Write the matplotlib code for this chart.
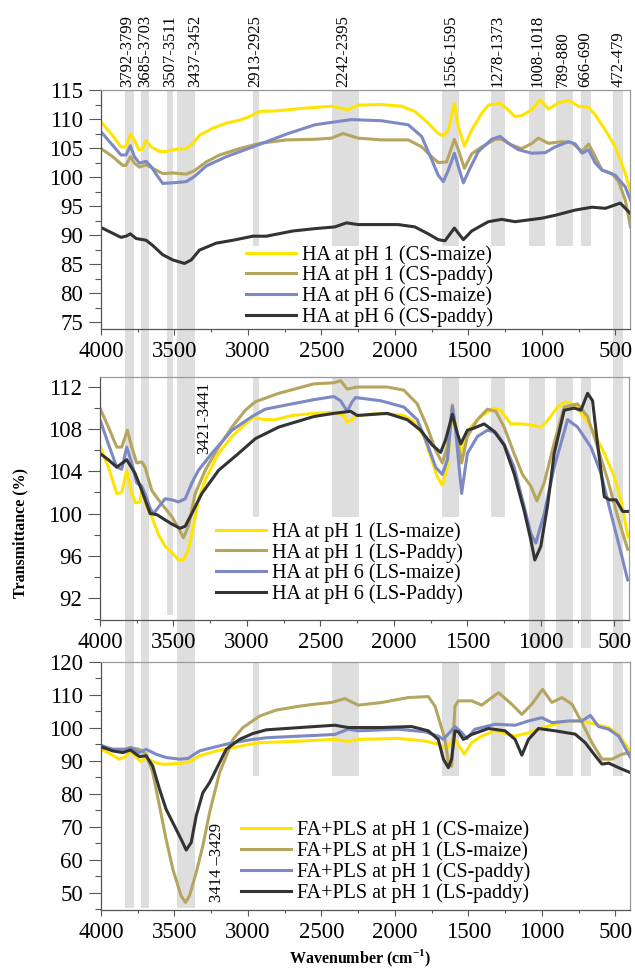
import matplotlib
matplotlib.use('Agg')
import matplotlib.pyplot as plt
from matplotlib.patches import Rectangle
from matplotlib.transforms import blended_transform_factory
from matplotlib.ticker import MultipleLocator

plt.rcParams['font.family'] = ['Liberation Serif', 'DejaVu Serif']
plt.rcParams['mathtext.fontset'] = 'custom'
plt.rcParams['mathtext.rm'] = 'Liberation Serif'
plt.rcParams['mathtext.bf'] = 'Liberation Serif:bold'

# ---- data (wavenumber cm-1, transmittance %) ----
# panel 1: HA, CS
p1_yellow_wn = [4000, 3932, 3864, 3830, 3800, 3773, 3743, 3720, 3693, 3659, 3602, 3557, 3489, 3420, 3375, 3330, 3239, 3148, 3057, 2989, 2920, 2807, 2648, 2545, 2432, 2318, 2250, 2091, 1955, 1864, 1773, 1705, 1670, 1636, 1595, 1568, 1527, 1477, 1409, 1364, 1284, 1239, 1182, 1136, 1068, 1011, 955, 886, 818, 750, 682, 636, 568, 500, 432, 397]
p1_yellow_t = [109.5, 107.5, 105.2, 105.2, 107.4, 106.4, 104.7, 104.7, 106.3, 105.2, 104.4, 104.4, 104.8, 104.9, 105.8, 107.2, 108.4, 109.3, 109.8, 110.4, 111.3, 111.4, 111.8, 112.0, 112.2, 111.6, 112.4, 112.5, 112.2, 111.3, 109.3, 107.5, 107.1, 108.1, 112.7, 108.7, 105.3, 108.1, 111.0, 112.4, 112.7, 111.8, 110.4, 110.6, 111.6, 113.3, 111.7, 112.8, 113.2, 112.2, 112.0, 110.7, 108.1, 105.2, 100.6, 97.5]

p1_khaki_wn = [4000, 3920, 3852, 3830, 3800, 3773, 3739, 3693, 3648, 3580, 3511, 3420, 3364, 3284, 3193, 3057, 2920, 2738, 2545, 2432, 2352, 2250, 2091, 1909, 1818, 1750, 1705, 1648, 1595, 1568, 1527, 1477, 1409, 1318, 1273, 1205, 1136, 1068, 1023, 955, 864, 795, 727, 682, 636, 591, 523, 477, 432, 397]
p1_khaki_t = [104.9, 103.5, 102.0, 102.0, 103.5, 102.4, 101.7, 102.1, 101.5, 100.6, 100.7, 100.5, 101.1, 102.6, 103.8, 104.9, 105.8, 106.4, 106.5, 106.7, 107.5, 106.7, 106.4, 106.4, 105.2, 103.5, 102.5, 102.6, 106.5, 104.7, 101.5, 104.0, 105.2, 106.5, 106.5, 105.5, 104.9, 105.8, 106.7, 105.8, 106.1, 105.9, 104.4, 105.7, 103.5, 101.2, 100.6, 99.2, 96.0, 91.4]

p1_blue_wn = [4000, 3932, 3864, 3830, 3800, 3773, 3739, 3693, 3659, 3614, 3580, 3511, 3420, 3364, 3284, 3148, 2966, 2738, 2545, 2409, 2295, 2091, 1909, 1818, 1750, 1705, 1670, 1636, 1595, 1568, 1534, 1489, 1432, 1341, 1284, 1227, 1159, 1068, 977, 909, 818, 773, 727, 682, 636, 591, 500, 432, 397]
p1_blue_t = [107.8, 105.8, 103.8, 103.8, 105.4, 103.5, 102.4, 102.7, 101.8, 100.1, 98.9, 99.0, 99.2, 100.1, 101.9, 103.5, 105.2, 107.4, 109.0, 109.5, 109.9, 109.7, 109.0, 107.0, 103.0, 100.3, 99.2, 101.2, 104.1, 101.8, 99.0, 101.5, 104.4, 106.5, 107.0, 105.8, 104.7, 104.1, 104.2, 105.2, 106.1, 105.7, 104.1, 104.7, 102.4, 101.2, 100.3, 98.3, 96.0]

p1_black_wn = [4000, 3920, 3864, 3830, 3800, 3761, 3693, 3648, 3580, 3511, 3432, 3386, 3330, 3216, 3102, 2966, 2875, 2693, 2545, 2409, 2329, 2250, 1977, 1864, 1773, 1705, 1659, 1595, 1534, 1477, 1364, 1273, 1182, 1000, 909, 773, 659, 568, 466, 397]
p1_black_t = [91.3, 90.3, 89.6, 89.8, 90.2, 89.4, 89.1, 88.2, 86.6, 85.7, 85.1, 85.7, 87.4, 88.6, 89.1, 89.8, 89.8, 90.7, 91.1, 91.4, 92.1, 91.8, 91.8, 91.4, 90.2, 89.2, 89.0, 91.2, 89.2, 90.7, 92.3, 92.7, 92.3, 92.9, 93.4, 94.3, 94.8, 94.6, 95.5, 93.7]

# panel 2: HA, LS
p2_yellow_wn = [4000, 3943, 3886, 3852, 3818, 3784, 3757, 3727, 3716, 3682, 3648, 3602, 3557, 3511, 3466, 3432, 3398, 3364, 3330, 3284, 3193, 3102, 3011, 2955, 2875, 2807, 2693, 2545, 2409, 2341, 2318, 2284, 2250, 2091, 1932, 1864, 1795, 1750, 1705, 1670, 1636, 1614, 1602, 1580, 1545, 1523, 1477, 1409, 1318, 1273, 1205, 1136, 1068, 1000, 955, 886, 830, 773, 705, 636, 568, 500, 455, 407]
p2_yellow_t = [106.4, 104.4, 101.9, 102.0, 104.1, 101.9, 101.0, 101.1, 102.2, 100.6, 99.7, 98.0, 96.9, 96.3, 95.6, 95.6, 96.6, 98.8, 101.3, 103.2, 105.7, 107.3, 108.5, 109.1, 108.9, 108.9, 109.3, 109.5, 109.6, 109.3, 108.7, 108.9, 109.3, 109.5, 109.3, 108.7, 107.3, 105.4, 103.5, 102.7, 104.4, 107.9, 109.8, 108.2, 105.7, 106.6, 108.2, 109.2, 110.0, 109.8, 108.5, 108.5, 108.4, 108.2, 108.8, 110.1, 110.6, 110.3, 109.2, 107.6, 105.7, 103.5, 101.3, 97.8]

p2_khaki_wn = [4000, 3943, 3886, 3852, 3814, 3784, 3750, 3716, 3693, 3648, 3602, 3557, 3511, 3466, 3432, 3398, 3352, 3284, 3193, 3102, 3011, 2943, 2784, 2545, 2409, 2363, 2318, 2250, 2045, 1932, 1841, 1773, 1716, 1670, 1636, 1602, 1568, 1539, 1500, 1432, 1364, 1307, 1250, 1182, 1125, 1068, 1027, 977, 909, 841, 750, 682, 614, 545, 477, 409]
p2_khaki_t = [110.0, 108.2, 106.3, 106.3, 107.9, 106.3, 104.8, 104.9, 104.4, 102.2, 101.3, 100.5, 99.7, 98.6, 97.7, 98.8, 101.9, 104.1, 106.3, 108.2, 109.8, 110.6, 111.4, 112.3, 112.4, 112.6, 111.8, 112.0, 112.0, 111.7, 110.4, 108.2, 106.0, 104.8, 106.3, 110.3, 107.0, 104.8, 107.3, 108.9, 109.9, 109.7, 108.2, 105.7, 103.7, 102.6, 101.2, 102.9, 106.7, 110.1, 110.4, 109.2, 106.3, 103.2, 99.7, 96.6]

p2_blue_wn = [4000, 3943, 3886, 3852, 3818, 3784, 3750, 3716, 3693, 3659, 3636, 3602, 3557, 3511, 3466, 3420, 3375, 3330, 3239, 3102, 2966, 2875, 2693, 2545, 2409, 2363, 2318, 2284, 2261, 2091, 1932, 1841, 1773, 1716, 1670, 1636, 1602, 1580, 1539, 1500, 1432, 1364, 1307, 1250, 1182, 1114, 1068, 1034, 977, 909, 818, 750, 659, 591, 523, 455, 409]
p2_blue_t = [108.9, 106.6, 104.4, 104.2, 106.3, 104.8, 102.9, 102.6, 101.9, 100.5, 100.0, 100.6, 101.4, 101.3, 101.1, 101.4, 102.9, 104.1, 105.7, 107.9, 109.2, 109.9, 110.4, 110.8, 111.1, 110.7, 109.7, 110.6, 111.0, 110.7, 110.1, 108.9, 106.6, 104.4, 103.7, 105.1, 110.1, 107.9, 101.9, 105.7, 107.3, 107.9, 107.7, 106.6, 104.4, 100.7, 98.1, 97.2, 100.0, 104.4, 108.9, 108.2, 106.3, 103.8, 100.0, 96.3, 93.7]

p2_black_wn = [4000, 3943, 3886, 3818, 3761, 3716, 3659, 3614, 3557, 3511, 3455, 3420, 3375, 3307, 3193, 3057, 2943, 2784, 2545, 2409, 2295, 2250, 2045, 1909, 1818, 1739, 1682, 1648, 1602, 1568, 1545, 1500, 1455, 1386, 1318, 1250, 1182, 1114, 1068, 1041, 1000, 955, 909, 841, 773, 727, 682, 648, 614, 568, 534, 489, 443, 409]
p2_black_t = [105.7, 105.1, 104.4, 105.1, 103.8, 102.2, 100.0, 99.9, 99.4, 99.0, 98.6, 98.8, 100.0, 101.9, 104.1, 105.7, 107.1, 108.2, 109.2, 109.5, 109.7, 109.3, 109.5, 108.9, 107.9, 106.5, 105.8, 107.0, 109.4, 107.6, 106.6, 107.9, 108.1, 108.5, 107.8, 106.5, 103.8, 100.3, 97.5, 95.6, 96.9, 100.7, 105.7, 109.8, 110.0, 109.8, 111.4, 110.7, 106.6, 101.6, 101.3, 101.3, 100.2, 100.2]

# panel 3: FA+PLS
p3_yellow_wn = [4000, 3932, 3875, 3841, 3800, 3761, 3727, 3693, 3648, 3580, 3466, 3398, 3330, 3216, 3102, 2989, 2920, 2738, 2545, 2409, 2318, 2250, 1977, 1795, 1705, 1648, 1600, 1527, 1477, 1409, 1318, 1182, 1091, 955, 818, 727, 636, 545, 477, 409]
p3_yellow_t = [93.5, 92.0, 90.5, 91.0, 93.0, 91.0, 89.8, 91.0, 89.7, 88.9, 89.2, 89.7, 91.5, 93.0, 94.0, 95.0, 95.5, 95.8, 96.2, 96.5, 95.9, 96.5, 96.8, 96.0, 95.0, 93.5, 97.0, 92.0, 95.5, 97.5, 99.1, 97.5, 98.5, 100.6, 102.1, 102.1, 101.1, 100.1, 98.0, 93.5]

p3_khaki_wn = [4000, 3920, 3841, 3800, 3739, 3693, 3648, 3602, 3557, 3511, 3455, 3425, 3398, 3352, 3307, 3261, 3193, 3102, 3034, 2920, 2807, 2648, 2545, 2432, 2341, 2250, 2091, 1909, 1773, 1727, 1693, 1659, 1636, 1614, 1591, 1568, 1477, 1409, 1295, 1205, 1136, 1068, 995, 932, 864, 795, 727, 659, 591, 523, 455, 397]
p3_khaki_t = [94.0, 93.5, 93.5, 94.0, 93.5, 92.0, 86.4, 76.3, 66.2, 57.1, 49.0, 47.0, 49.0, 56.1, 64.2, 74.3, 86.4, 96.5, 100.1, 103.6, 105.4, 106.6, 107.2, 107.7, 108.9, 106.9, 107.7, 109.2, 109.5, 106.6, 101.6, 96.5, 89.5, 88.4, 106.6, 108.2, 108.2, 106.9, 110.7, 107.2, 104.1, 107.2, 111.7, 107.7, 109.2, 107.2, 101.6, 95.5, 90.5, 90.5, 92.0, 92.5]

p3_blue_wn = [4000, 3920, 3830, 3795, 3739, 3693, 3625, 3557, 3466, 3409, 3330, 3216, 3102, 2966, 2875, 2648, 2545, 2409, 2318, 2250, 1977, 1795, 1705, 1670, 1591, 1545, 1511, 1455, 1318, 1182, 1091, 1000, 932, 818, 727, 670, 614, 545, 477, 397]
p3_blue_t = [94.7, 93.5, 93.5, 94.0, 92.5, 93.5, 92.0, 91.0, 90.5, 90.7, 93.0, 94.3, 95.5, 96.5, 97.0, 97.5, 97.7, 98.0, 99.6, 99.1, 99.6, 98.8, 97.5, 96.5, 100.4, 98.6, 96.7, 99.6, 101.1, 100.8, 102.1, 103.1, 101.6, 102.1, 102.1, 103.8, 100.4, 99.6, 97.5, 91.0]

p3_black_wn = [4000, 3920, 3852, 3800, 3739, 3693, 3648, 3602, 3557, 3511, 3455, 3420, 3386, 3352, 3307, 3261, 3216, 3148, 3057, 2966, 2875, 2648, 2545, 2409, 2318, 2091, 1886, 1773, 1705, 1670, 1636, 1614, 1591, 1568, 1534, 1477, 1364, 1250, 1182, 1136, 1091, 1023, 909, 773, 705, 636, 591, 545, 477, 397]
p3_black_t = [94.3, 93.0, 92.5, 93.3, 91.3, 91.5, 88.4, 81.4, 75.3, 71.2, 66.2, 62.9, 65.2, 73.3, 80.3, 83.4, 87.4, 93.5, 96.5, 98.3, 99.4, 100.1, 100.4, 100.8, 100.1, 100.1, 100.4, 99.1, 96.5, 90.5, 87.9, 90.5, 99.1, 98.8, 96.5, 98.0, 99.8, 99.1, 96.5, 91.7, 96.5, 99.8, 99.1, 98.1, 95.5, 91.5, 89.0, 89.3, 87.9, 86.4]

labels1 = ['HA at pH 1 (CS-maize)', 'HA at pH 1 (CS-paddy)', 'HA at pH 6 (CS-maize)', 'HA at pH 6 (CS-paddy)']
labels2 = ['HA at pH 1 (LS-maize)', 'HA at pH 1 (LS-Paddy)', 'HA at pH 6 (LS-maize)', 'HA at pH 6 (LS-Paddy)']
labels3 = ['FA+PLS at pH 1 (CS-maize)', 'FA+PLS at pH 1 (LS-maize)', 'FA+PLS at pH 1 (CS-paddy)', 'FA+PLS at pH 1 (LS-paddy)']

# shaded band ranges (cm-1) and their labels
band_ranges = [(3837, 3775), (3730, 3671), (3553, 3508), (3485, 3360), (2967, 2922), (2429, 2241),
               (1680, 1562), (1344, 1254), (1090, 977), (904, 788), (732, 663), (519, 451)]
band_labels = ['3792-3799', '3685-3703', '3507-3511', '3437-3452', '2913-2925', '2242-2395',
               '1556-1595', '1278-1373', '1008-1018', '789-880', '666-690', '472-479']
band_label_pos = [3823, 3700, 3530, 3360, 2951, 2352, 1624, 1303, 1031, 854, 704, 480]

colors = ['#ffe400', '#b5a55f', '#7d89c4', '#333333']

# ---- figure ----
W, H = 635, 968
fig = plt.figure(figsize=(W / 100, H / 100), dpi=100)

def frac(left, top, right, bottom):
    return [left / W, 1 - bottom / H, (right - left) / W, (bottom - top) / H]

ax1 = fig.add_axes(frac(101, 90, 630, 329))
ax2 = fig.add_axes(frac(100, 377, 629, 620))
ax3 = fig.add_axes(frac(101, 662, 630, 910))

panels = [
    (ax1, [(p1_yellow_wn, p1_yellow_t), (p1_khaki_wn, p1_khaki_t), (p1_blue_wn, p1_blue_t), (p1_black_wn, p1_black_t)],
     labels1, (73.8, 115), 5, 2.5, (0.275, 0.352)),
    (ax2, [(p2_yellow_wn, p2_yellow_t), (p2_khaki_wn, p2_khaki_t), (p2_blue_wn, p2_blue_t), (p2_black_wn, p2_black_t)],
     labels2, (89.9, 112.95), 4, 2, (0.22, 0.403)),
    (ax3, [(p3_yellow_wn, p3_yellow_t), (p3_khaki_wn, p3_khaki_t), (p3_blue_wn, p3_blue_t), (p3_black_wn, p3_black_t)],
     labels3, (44.7, 120), 10, 5, (0.265, 0.36)),
]

for ax, series, labels, ylim, ymaj, ymin_, legpos in panels:
    ax.set_facecolor('none')
    for (wn, t), c, lab in zip(series, colors, labels):
        ax.plot(wn, t, color=c, lw=2.2, label=lab, solid_joinstyle='round')
    ax.set_xlim(4000, 400)
    ax.set_ylim(*ylim)
    ax.xaxis.set_major_locator(MultipleLocator(500))
    ax.xaxis.set_minor_locator(MultipleLocator(250))
    ax.yaxis.set_major_locator(MultipleLocator(ymaj))
    ax.yaxis.set_minor_locator(MultipleLocator(ymin_))
    ax.tick_params(axis='x', which='major', direction='out', length=4.5, width=0.8, colors='#555555',
                   labelcolor='black', labelsize=16.5, pad=4)
    ax.tick_params(axis='x', which='minor', direction='out', length=2.5, width=0.8, colors='#555555')
    ax.tick_params(axis='y', which='major', direction='out', length=9, width=0.8, colors='#555555',
                   labelcolor='black', labelsize=16.5, pad=4)
    ax.tick_params(axis='y', which='minor', direction='out', length=4, width=0.8, colors='#555555')
    for s in ['left', 'bottom']:
        ax.spines[s].set_color('#555555')
        ax.spines[s].set_linewidth(0.9)
    for s in ['top', 'right']:
        ax.spines[s].set_color('#999999')
        ax.spines[s].set_linewidth(0.9)
    ax.legend(loc='upper left', bbox_to_anchor=legpos, frameon=False, fontsize=14.5,
              handlelength=2.45, handletextpad=0.3, labelspacing=0.05, borderpad=0, borderaxespad=0)

# shaded bands drawn on the figure so they run through the gaps between panels
# segments in figure pixels (top, bottom) for each band
seg_full = [(90, 908)]
seg_c = [(90, 615)]
seg_short = [(90, 246), (377, 517), (662, 776)]
seg_mid = [(90, 246), (377, 648), (662, 776)]
seg_last = [(90, 648), (662, 776)]
band_segments = [seg_full, seg_full, seg_c, seg_full, seg_short, seg_short,
                 seg_short, seg_short, seg_mid, seg_mid, seg_mid, seg_last]

btrans = blended_transform_factory(ax1.transData, fig.transFigure)
for (hi, lo), segs in zip(band_ranges, band_segments):
    for top, bot in segs:
        fig.patches.append(Rectangle((lo, 1 - bot / H), hi - lo, (bot - top) / H, transform=btrans,
                                     facecolor='#dedede', edgecolor='none', zorder=-1))

for lab, x in zip(band_labels, band_label_pos):
    ax1.text(x, 1.012, lab, transform=ax1.get_xaxis_transform(), rotation=90,
             ha='center', va='bottom', fontsize=12)

ax2.text(3292, 112.5, '3421-3441', rotation=90, ha='center', va='top', fontsize=12)
ax3.text(3210, 47.0, '3414 \u20133429', rotation=90, ha='center', va='bottom', fontsize=12)

fig.text(20 / W, 1 - 533 / H, 'Transmittance (%)', rotation=90, ha='center', va='center',
         fontsize=11.5, fontweight='bold')
fig.text(360 / W, 1 - 958 / H, r'Wavenumber (cm$^{\mathbf{-1}}$)', ha='center', va='center',
         fontsize=11.5, fontweight='bold')

fig.savefig('out.png', dpi=100)
